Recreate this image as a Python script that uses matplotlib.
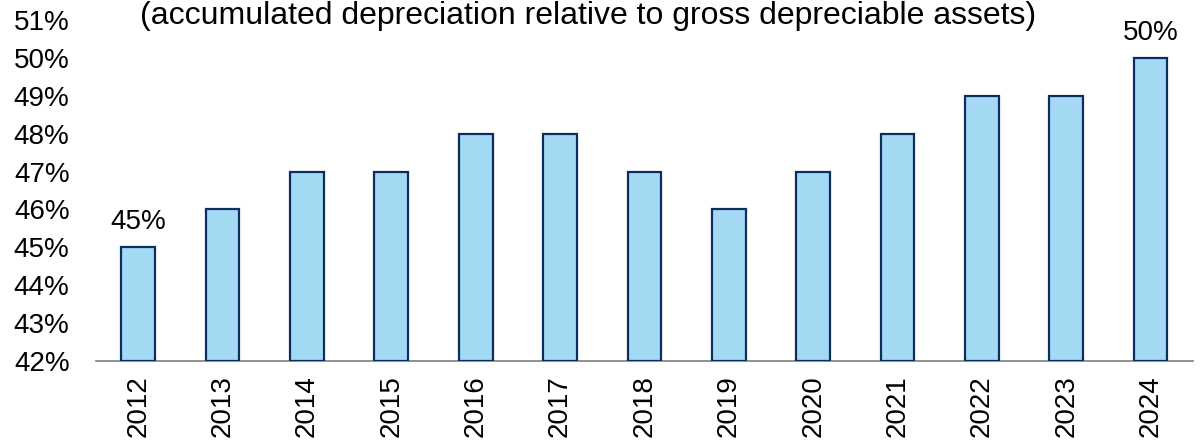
import matplotlib.pyplot as plt
from matplotlib.ticker import FuncFormatter

years = ['2012', '2013', '2014', '2015', '2016', '2017', '2018',
         '2019', '2020', '2021', '2022', '2023', '2024']
ratio = [45, 46, 47, 47, 48, 48, 47, 46, 47, 48, 49, 49, 50]
labelled = {0: '45%', 12: '50%'}
title = '(accumulated depreciation relative to gross depreciable assets)'

plt.rcParams['font.family'] = ['Liberation Sans', 'DejaVu Sans']

fig = plt.figure(figsize=(12, 4.4), dpi=100)
ax = fig.add_axes([0.08, 0.1795, 0.914, 0.775])

x = range(len(years))
ax.bar(x, [r - 42 for r in ratio], bottom=42, width=0.4,
       color='#a3d9f2', edgecolor='#0d2d5e', linewidth=1.6, zorder=3)

for i, txt in labelled.items():
    ax.text(i, ratio[i] + 0.32, txt, ha='center', va='bottom', fontsize=20)

ax.set_ylim(42, 51)
ax.set_xlim(-0.5, len(years) - 0.5)
ax.set_yticks(range(42, 52))
ax.yaxis.set_major_formatter(FuncFormatter(lambda v, p: f'{v:.0f}%'))
ax.set_xticks(list(x))
ax.set_xticklabels(years, rotation=90)
ax.tick_params(axis='both', length=0, labelsize=20)
ax.tick_params(axis='y', pad=19)
ax.tick_params(axis='x', pad=10)

for s in ['top', 'right', 'left']:
    ax.spines[s].set_visible(False)
ax.spines['bottom'].set_color('#7f7f7f')
ax.spines['bottom'].set_linewidth(1.2)

fig.text(0.49, 0.945, title, ha='center', va='baseline', fontsize=23)

fig.savefig('out.png', dpi=100)
